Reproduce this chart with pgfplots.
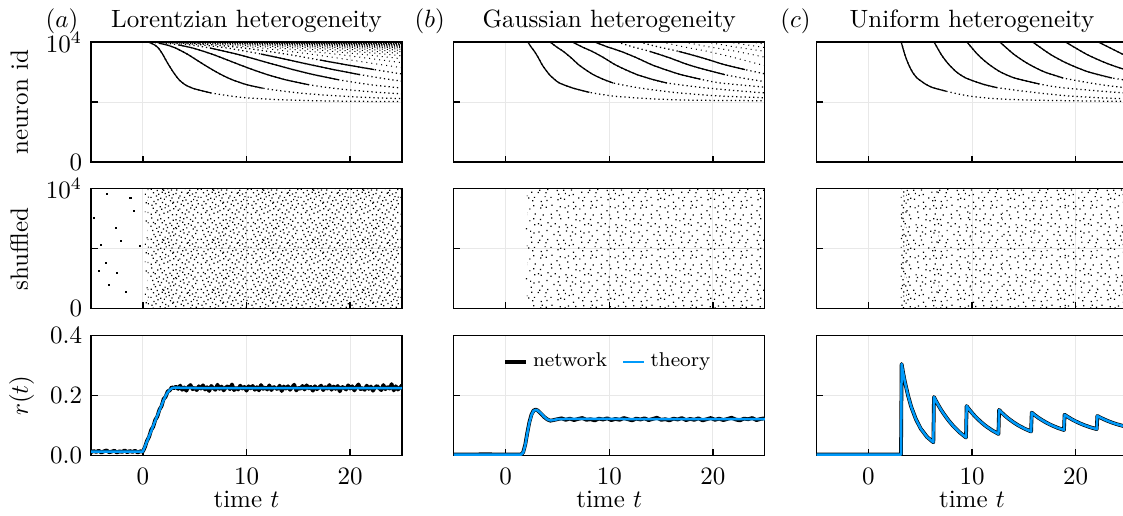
\documentclass[border=0pt]{standalone}
\usepackage{pgfplots}
\pgfplotsset{compat=1.18}
\usepackage{pgfplotstable}
\usepgfplotslibrary{groupplots}
\usetikzlibrary{patterns}

\definecolor{thblue}{RGB}{0,154,250}

% spike dots inside a pattern tile; a 20pt tile is made of one 10pt set placed four ways
\def\spks{0.5pt}
\newcommand\spkdt[2]{\pgfpathrectangle{\pgfpointadd{\spkoff}{\pgfqpoint{#1pt}{#2pt}}}{\pgfqpoint{\spks}{\spks}}}
\newcommand\spkdtT[2]{\pgfpathrectangle{\pgfpointadd{\spkoff}{\pgfqpoint{#2pt}{#1pt}}}{\pgfqpoint{\spks}{\spks}}}
\newcommand\spkdtX[2]{\pgfpathrectangle{\pgfpointadd{\spkoff}{\pgfpoint{9.5pt-#1pt}{#2pt}}}{\pgfqpoint{\spks}{\spks}}}
\newcommand\spkdtY[2]{\pgfpathrectangle{\pgfpointadd{\spkoff}{\pgfpoint{#2pt}{9.5pt-#1pt}}}{\pgfqpoint{\spks}{\spks}}}
\newcommand\setE[1]{#1{0.3}{0.5}#1{3.6}{0.2}#1{7.0}{1.4}#1{2.6}{1.9}#1{5.9}{3.1}#1{9.4}{2.7}%
  #1{0.6}{4.1}#1{3.9}{3.5}#1{7.3}{3.8}#1{3.0}{6.3}#1{5.6}{6.5}#1{9.3}{5.3}%
  #1{0.2}{7.3}#1{4.1}{6.9}#1{7.6}{8.1}#1{3.3}{8.6}#1{6.0}{8.9}#1{9.2}{8.5}}
\newcommand\setO[1]{#1{2.1}{1.2}#1{5.4}{0.9}#1{8.9}{0.3}#1{1.1}{2.9}#1{4.5}{2.5}#1{7.9}{2.0}%
  #1{2.2}{4.7}#1{6.2}{4.4}#1{9.0}{4.9}#1{1.4}{5.6}#1{4.8}{5.2}#1{8.1}{5.9}%
  #1{2.4}{7.9}#1{6.4}{7.5}#1{8.7}{7.0}#1{1.2}{9.2}#1{4.7}{9.4}#1{7.4}{9.4}}
\newcommand\setL[1]{#1{0.9}{0.9}#1{4.3}{1.6}#1{7.7}{0.7}#1{2.7}{4.2}#1{5.8}{3.8}#1{9.2}{4.5}%
  #1{1.3}{7.6}#1{4.9}{8.2}#1{8.3}{7.8}}
\newcommand\fourway[1]{%
  \def\spkoff{\pgfqpoint{0pt}{0pt}}#1\spkdt
  \def\spkoff{\pgfqpoint{10pt}{0pt}}#1\spkdtT
  \def\spkoff{\pgfqpoint{0pt}{10pt}}#1\spkdtY
  \def\spkoff{\pgfqpoint{10pt}{10pt}}#1\spkdtX}
\pgfdeclarepatternformonly{spkM}{\pgfpointorigin}{\pgfqpoint{20pt}{20pt}}{\pgfqpoint{20pt}{20pt}}{%
  \fourway\setE\pgfusepath{fill}}
\pgfdeclarepatternformonly{spkO}{\pgfpointorigin}{\pgfqpoint{20pt}{20pt}}{\pgfqpoint{20pt}{20pt}}{%
  \fourway\setO\pgfusepath{fill}}
\pgfdeclarepatternformonly{spkD}{\pgfpointorigin}{\pgfqpoint{20pt}{20pt}}{\pgfqpoint{20pt}{20pt}}{%
  \fourway\setE\fourway\setO\pgfusepath{fill}}
\pgfdeclarepatternformonly{spkL}{\pgfpointorigin}{\pgfqpoint{20pt}{20pt}}{\pgfqpoint{20pt}{20pt}}{%
  \fourway\setL\pgfusepath{fill}}

\pgfplotsset{
  spkline/.style={black, line width=0.5pt, smooth, tension=0.4},
  spkdot/.style={black, line width=0.5pt, dash pattern=on 0.5pt off 1.2pt, smooth, tension=0.4},
  spkfine/.style={black, line width=0.4pt, dash pattern=on 0.4pt off 1.6pt, smooth, tension=0.4},
  net/.style={black, line width=1.5pt, line join=round},
  thy/.style={thblue, line width=1.0pt, line join=round},
  toprow/.style={ymin=0, ymax=10000, ytick={0,5000,10000}, xticklabels={}},
  botrow/.style={ymin=0, ymax=0.4, ytick={0,0.2,0.4},
    yticklabel style={/pgf/number format/.cd, fixed, fixed zerofill, precision=1}},
}

% spike times of the sorted rasters: one column per spike number
\pgfplotstableread{
id c1 c2 c3 c4 c5 c6 c7 c8 c9 c10 c11 c12 c13 c14
10000 0.45 nan nan nan nan nan nan nan nan nan nan nan nan nan
9990 0.5 0.733 0.966 1.199 1.432 1.665 1.898 2.131 2.364 2.597 2.83 3.063 3.296 3.529
9960 0.62 1.087 1.553 2.02 2.486 2.953 3.419 3.886 4.352 4.819 5.285 5.752 6.218 6.685
9900 0.8 1.538 2.275 3.013 3.751 4.489 5.226 5.964 6.702 7.439 8.177 8.915 9.652 10.39
9750 1.15 2.317 3.484 4.651 5.818 6.985 8.152 9.319 10.49 11.65 12.82 13.99 15.15 16.32
9500 1.5 3.156 4.812 6.468 8.124 9.78 11.44 13.09 14.75 16.4 18.06 19.72 21.37 23.03
9000 1.9 4.27 6.64 9.02 11.39 13.76 16.13 18.5 20.88 23.25 25.62 27.99 30.36 32.73
8500 2.22 5.19 8.16 11.13 14.1 17.07 20.04 23.01 25.98 28.95 nan nan nan nan
8111 2.48 5.9 9.32 12.73 16.15 19.57 22.99 26.4 nan nan nan nan nan nan
7700 2.78 6.69 10.59 14.5 18.41 22.32 26.22 nan nan nan nan nan nan nan
7278 3.11 7.572 12.03 16.5 20.96 25.42 nan nan nan nan nan nan nan nan
6850 3.5 8.634 13.77 18.9 24.04 nan nan nan nan nan nan nan nan nan
6444 4.07 10.03 15.99 21.94 27.9 nan nan nan nan nan nan nan nan nan
6150 4.8 11.57 18.34 25.11 nan nan nan nan nan nan nan nan nan nan
5944 5.67 13.2 20.73 nan nan nan nan nan nan nan nan nan nan nan
5750 6.6 15.09 23.58 nan nan nan nan nan nan nan nan nan nan nan
5611 7.6 17.04 26.47 nan nan nan nan nan nan nan nan nan nan nan
5450 8.9 19.93 nan nan nan nan nan nan nan nan nan nan nan nan
5333 10.2 23.04 nan nan nan nan nan nan nan nan nan nan nan nan
5240 12 27.15 nan nan nan nan nan nan nan nan nan nan nan nan
5167 14 nan nan nan nan nan nan nan nan nan nan nan nan nan
5100 17 nan nan nan nan nan nan nan nan nan nan nan nan nan
5056 21 nan nan nan nan nan nan nan nan nan nan nan nan nan
5030 25.5 nan nan nan nan nan nan nan nan nan nan nan nan nan
}\lorA
\pgfplotstableread{
id d15 d16 d17 d18 d19 d20 d21 d22 d23 d24 d25 d26 d27 d28 d29 d30 d31 d32 d33
9990 3.762 3.995 4.228 4.461 4.694 4.927 5.16 5.393 5.626 5.859 6.092 6.325 6.558 6.791 7.024 7.257 7.49 7.723 7.956
9960 7.151 7.618 8.084 8.551 9.017 9.484 9.95 10.42 10.88 11.35 11.82 12.28 12.75 13.22 13.68 14.15 14.62 15.08 15.55
9900 11.13 11.87 12.6 13.34 14.08 14.82 15.55 16.29 17.03 17.77 18.5 19.24 19.98 20.72 21.46 22.19 22.93 23.67 24.41
9750 17.49 18.66 19.82 20.99 22.16 23.32 24.49 25.66 26.82 27.99 29.16 30.33 31.49 32.66 33.83 35.0 36.16 37.33 38.5
9500 24.68 26.34 28.0 29.65 31.31 32.96 34.62 nan nan nan nan nan nan nan nan nan nan nan nan
9000 35.16 nan nan nan nan nan nan nan nan nan nan nan nan nan nan nan nan nan nan
}\lorB
\pgfplotstableread{
id c1 c2 c3 c4 c5 c6 c7 c8 c9 c10 c11
10000 2.15 4.3 6.45 8.6 10.75 12.9 15.05 17.2 19.35 21.5 23.65
9600 2.45 4.9 7.35 9.8 12.25 14.7 17.15 19.6 22.05 24.5 26.95
9222 2.78 5.56 8.34 11.12 13.9 16.68 19.46 22.24 25.02 27.8 nan
8700 3.15 6.3 9.45 12.6 15.75 18.9 22.05 25.2 nan nan nan
8111 3.52 7.04 10.56 14.08 17.6 21.12 24.64 nan nan nan nan
7700 3.85 7.7 11.55 15.4 19.25 23.1 26.95 nan nan nan nan
7278 4.23 8.46 12.69 16.92 21.15 25.38 nan nan nan nan nan
6900 4.7 9.4 14.1 18.8 23.5 nan nan nan nan nan nan
6583 5.19 10.38 15.57 20.76 25.95 nan nan nan nan nan nan
6167 6.47 12.94 19.41 25.88 nan nan nan nan nan nan nan
5806 8.08 16.16 24.24 nan nan nan nan nan nan nan nan
5600 9.5 19 28.5 nan nan nan nan nan nan nan nan
5472 10.64 21.28 nan nan nan nan nan nan nan nan nan
5278 13.8 27.6 nan nan nan nan nan nan nan nan nan
5167 17.05 nan nan nan nan nan nan nan nan nan nan
5130 20.5 nan nan nan nan nan nan nan nan nan nan
5111 24.4 nan nan nan nan nan nan nan nan nan nan
5100 27 nan nan nan nan nan nan nan nan nan nan
}\gauA
\pgfplotstableread{
id c1 c2 c3 c4 c5 c6 c7
10000 3.17 6.34 9.51 12.68 15.85 19.02 22.19
9000 3.5 7.0 10.5 14.0 17.5 21.0 24.5
8400 3.75 7.5 11.25 15.0 18.75 22.5 26.25
8000 3.95 7.9 11.85 15.8 19.75 23.7 nan
7500 4.25 8.5 12.75 17.0 21.25 25.5 nan
7000 4.7 9.4 14.1 18.8 23.5 nan nan
6500 5.5 11.0 16.5 22.0 27.5 nan nan
6200 6.2 12.4 18.6 24.8 nan nan nan
5900 7.5 15.0 22.5 30.0 nan nan nan
5700 8.5 17.0 25.5 nan nan nan nan
5500 9.7 19.4 nan nan nan nan nan
5350 11.2 22.4 nan nan nan nan nan
5250 12.7 25.4 nan nan nan nan nan
5180 14.8 nan nan nan nan nan nan
5140 17.0 nan nan nan nan nan nan
5100 20.0 nan nan nan nan nan nan
5070 23.0 nan nan nan nan nan nan
5055 25.5 nan nan nan nan nan nan
}\uniA
% firing rate, uniform case
\pgfplotstableread{
t r
-5 0.003
3.15 0.003
3.21 0.305
3.363 0.274
3.516 0.247
3.822 0.201
4.128 0.163
4.587 0.121
5.046 0.090
5.658 0.062
6.27 0.044
6.33 0.195
6.485 0.1845
6.639 0.1746
6.948 0.1561
7.257 0.1397
7.721 0.1176
8.184 0.0985
8.802 0.0773
9.42 0.060
9.48 0.165
9.634 0.1577
9.787 0.1510
10.094 0.1382
10.401 0.1269
10.862 0.1117
11.322 0.0985
11.936 0.0839
12.55 0.072
12.61 0.152
12.765 0.1464
12.919 0.1411
13.228 0.1313
13.537 0.1225
14.001 0.1107
14.464 0.1005
15.082 0.0892
15.7 0.080
15.76 0.143
15.916 0.1385
16.071 0.1342
16.382 0.1263
16.693 0.1192
17.16 0.1098
17.626 0.1015
18.248 0.0924
18.87 0.085
18.93 0.136
19.085 0.1323
19.24 0.1288
19.55 0.1222
19.86 0.1163
20.325 0.1085
20.79 0.1017
21.41 0.0941
22.03 0.088
22.09 0.132
22.243 0.129
22.396 0.1263
22.702 0.1211
23.008 0.1164
23.467 0.1102
23.926 0.1048
24.538 0.0989
25.0 0.0951
}\uniR

\begin{document}
\begin{tikzpicture}
\begin{groupplot}[
  group style={group size=3 by 3, horizontal sep=20.7pt, vertical sep=10.7pt},
  scale only axis, width=124.4pt, height=48pt,
  xmin=-5, xmax=25, xtick={0,10,20},
  tick pos=left, tick align=inside, major tick length=2.6pt,
  tick style={black, line width=0.55pt},
  axis line style={black, line width=0.55pt},
  grid=major, grid style={black!9, line width=0.4pt},
  every axis title/.style={at={(axis description cs:0.5,1.125)}, anchor=base},
  ylabel style={at={(axis description cs:-0.2026,0.5)}, anchor=base},
  xlabel style={at={(axis description cs:0.5,-0.433)}, anchor=base},
  xticklabel style={yshift=-1.5pt},
  scaled y ticks=false,
]
% ---- row 1: sorted rasters
\nextgroupplot[toprow, yticklabels={$0$,,$10^4$}, ylabel={neuron id},
  title={Lorentzian heterogeneity},
  extra description/.code={\node[anchor=base] at (axis description cs:-0.093,1.125) {$(a)$};}]
\pgfplotsinvokeforeach{1,...,6}{\addplot[spkdot] table[x=c#1, y=id] {\lorA};}
\pgfplotsinvokeforeach{7,...,14}{\addplot[spkfine] table[x=c#1, y=id] {\lorA};}
\pgfplotsinvokeforeach{15,...,33}{\addplot[spkfine] table[x=d#1, y=id] {\lorB};}
\addplot[spkline, restrict y to domain=5750:10000] table[x=c1, y=id] {\lorA};
\addplot[spkline, restrict y to domain=6150:9900] table[x=c2, y=id] {\lorA};
\addplot[spkline, restrict y to domain=6444:9750] table[x=c3, y=id] {\lorA};
\addplot[spkline, restrict y to domain=6850:9500] table[x=c4, y=id] {\lorA};
\addplot[spkline, restrict y to domain=7278:9000] table[x=c5, y=id] {\lorA};
\addplot[spkline, restrict y to domain=7700:8500] table[x=c6, y=id] {\lorA};

\nextgroupplot[toprow, yticklabels={}, title={Gaussian heterogeneity},
  extra description/.code={\node[anchor=base] at (axis description cs:-0.077,1.125) {$(b)$};}]
\pgfplotsinvokeforeach{1,...,6}{\addplot[spkdot] table[x=c#1, y=id] {\gauA};}
\pgfplotsinvokeforeach{7,...,11}{\addplot[spkfine] table[x=c#1, y=id] {\gauA};}
\addplot[spkline, restrict y to domain=5806:10000] table[x=c1, y=id] {\gauA};
\addplot[spkline, restrict y to domain=6583:10000] table[x=c2, y=id] {\gauA};
\addplot[spkline, restrict y to domain=6583:10000] table[x=c3, y=id] {\gauA};
\addplot[spkline, restrict y to domain=6900:10000] table[x=c4, y=id] {\gauA};
\addplot[spkline, restrict y to domain=7278:9222] table[x=c5, y=id] {\gauA};
\addplot[spkline, restrict y to domain=7700:9222] table[x=c6, y=id] {\gauA};

\nextgroupplot[toprow, yticklabels={}, title={Uniform heterogeneity},
  extra description/.code={\node[anchor=base] at (axis description cs:-0.0675,1.125) {$(c)$};}]
\pgfplotsinvokeforeach{1,...,7}{\addplot[spkdot] table[x=c#1, y=id] {\uniA};}
\addplot[spkline, restrict y to domain=5900:10000] table[x=c1, y=id] {\uniA};
\addplot[spkline, restrict y to domain=6200:10000] table[x=c2, y=id] {\uniA};
\addplot[spkline, restrict y to domain=6500:10000] table[x=c3, y=id] {\uniA};
\addplot[spkline, restrict y to domain=7000:10000] table[x=c4, y=id] {\uniA};
\addplot[spkline, restrict y to domain=7000:10000] table[x=c5, y=id] {\uniA};
\addplot[spkline, restrict y to domain=7500:10000] table[x=c6, y=id] {\uniA};
\addplot[spkline, restrict y to domain=8400:10000] table[x=c7, y=id] {\uniA};

% ---- row 2: shuffled rasters (spike density shown as dot texture)
\nextgroupplot[toprow, yticklabels={$0$,,$10^4$}, ylabel={shuffled}]
\addplot[draw=none, pattern=spkL] coordinates {(0.2,10000) (0.45,10000)} \closedcycle;
\addplot[draw=none, pattern=spkD] coordinates {(0.45,10000) (25.5,10000)} \closedcycle;
\addplot[only marks, mark=square*, mark size=0.2pt, mark options={draw=none, fill=black}]
  coordinates {(-3.43,9555) (-1.19,9270) (-0.87,8151) (-2.63,6748) (-2.14,5630) (-4.0,5294)
  (-3.6,3807) (-4.27,3109) (-2.5,2966) (-3.24,1992) (-1.6,1370) (-4.75,7588) (-0.3,5200)};

\nextgroupplot[toprow, yticklabels={}]
\addplot[draw=none, pattern=spkL] coordinates {(1.85,10000) (2.1,10000)} \closedcycle;
\addplot[draw=none, pattern=spkM] coordinates {(2.1,10000) (25.5,10000)} \closedcycle;

\nextgroupplot[toprow, yticklabels={}]
\addplot[draw=none, pattern=spkM] coordinates {(3.12,10000) (25.5,10000)} \closedcycle;
\addplot[draw=none, pattern=spkO] coordinates {(3.12,10000) (3.7,10000)} \closedcycle;
\addplot[draw=none, pattern=spkL] coordinates {(3.12,10000) (3.45,10000)} \closedcycle;
\addplot[draw=none, pattern=spkL] coordinates {(6.28,10000) (6.75,10000)} \closedcycle;
\addplot[draw=none, pattern=spkL] coordinates {(9.43,10000) (9.85,10000)} \closedcycle;
\addplot[draw=none, pattern=spkL] coordinates {(12.57,10000) (12.95,10000)} \closedcycle;
\addplot[draw=none, pattern=spkL] coordinates {(15.72,10000) (16.1,10000)} \closedcycle;
\addplot[draw=none, pattern=spkL] coordinates {(18.88,10000) (19.25,10000)} \closedcycle;
\addplot[draw=none, pattern=spkL] coordinates {(22.04,10000) (22.4,10000)} \closedcycle;

% ---- row 3: firing rate
\nextgroupplot[botrow, ylabel={$r(t)$}, xlabel={time $t$}]
\addplot[net] coordinates {
 (-5,0.011) (-4.75,0.015) (-4.5,0.012) (-4.25,0.016) (-4,0.010) (-3.75,0.014) (-3.5,0.017)
 (-3.25,0.011) (-3,0.013) (-2.75,0.016) (-2.5,0.010) (-2.25,0.014) (-2,0.012) (-1.75,0.017)
 (-1.5,0.011) (-1.25,0.015) (-1,0.012) (-0.75,0.016) (-0.5,0.010) (-0.25,0.014) (0,0.013)
 (0.2,0.028) (0.4,0.049) (0.6,0.062) (0.8,0.085) (1.0,0.096) (1.2,0.119) (1.4,0.130)
 (1.6,0.153) (1.8,0.164) (2.0,0.188) (2.2,0.196) (2.4,0.214) (2.6,0.217) (2.8,0.228) (3.0,0.224)
 (3.2,0.230) (3.4,0.222) (3.6,0.233) (3.8,0.219) (4.0,0.227) (4.2,0.216) (4.4,0.229) (4.6,0.235)
 (4.8,0.221) (5.0,0.226) (5.2,0.218) (5.4,0.231) (5.6,0.223) (5.8,0.234) (6.0,0.220) (6.2,0.228)
 (6.4,0.215) (6.6,0.232) (6.8,0.225) (7.0,0.219) (7.2,0.236) (7.4,0.222) (7.6,0.230) (7.8,0.217)
 (8.0,0.227) (8.2,0.231) (8.4,0.221) (8.6,0.237) (8.8,0.218) (9.0,0.226) (9.2,0.220) (9.4,0.233)
 (9.6,0.223) (9.8,0.229) (10.0,0.216) (10.2,0.231) (10.4,0.224) (10.6,0.232) (10.8,0.219) (11.0,0.228)
 (11.2,0.217) (11.4,0.235) (11.6,0.222) (11.8,0.227) (12.0,0.220) (12.2,0.234) (12.4,0.218) (12.6,0.229)
 (12.8,0.225) (13.0,0.221) (13.2,0.233) (13.4,0.215) (13.6,0.230) (13.8,0.223) (14.0,0.231) (14.2,0.219)
 (14.4,0.228) (14.6,0.236) (14.8,0.217) (15.0,0.226) (15.2,0.222) (15.4,0.232) (15.6,0.220) (15.8,0.234)
 (16.0,0.224) (16.2,0.229) (16.4,0.216) (16.6,0.231) (16.8,0.221) (17.0,0.227) (17.2,0.233) (17.4,0.218)
 (17.6,0.228) (17.8,0.223) (18.0,0.235) (18.2,0.219) (18.4,0.230) (18.6,0.222) (18.8,0.232) (19.0,0.214)
 (19.2,0.229) (19.4,0.226) (19.6,0.220) (19.8,0.234) (20.0,0.223) (20.2,0.231) (20.4,0.217) (20.6,0.228)
 (20.8,0.237) (21.0,0.221) (21.2,0.225) (21.4,0.219) (21.6,0.233) (21.8,0.222) (22.0,0.230) (22.2,0.216)
 (22.4,0.227) (22.6,0.232) (22.8,0.224) (23.0,0.218) (23.2,0.235) (23.4,0.221) (23.6,0.229) (23.8,0.223)
 (24.0,0.238) (24.2,0.217) (24.4,0.231) (24.6,0.220) (24.8,0.226) (25.0,0.234)};
\addplot[thy] coordinates {
 (-5,0.013) (0,0.013) (0.2,0.03) (0.4,0.047) (0.6,0.064) (0.8,0.081) (1.0,0.099) (1.2,0.116)
 (1.4,0.133) (1.6,0.150) (1.8,0.167) (2.0,0.184) (2.2,0.199) (2.4,0.211) (2.6,0.219) (2.8,0.224)
 (3.0,0.226) (3.4,0.226) (5,0.225) (25,0.225)};

\nextgroupplot[botrow, yticklabels={}, xlabel={time $t$},
  legend style={at={(axis description cs:0.5,0.78)}, anchor=center, draw=none, fill=none,
    font=\footnotesize, legend columns=2, /tikz/every even column/.append style={column sep=4pt}},
  legend image code/.code={\draw[#1] (0pt,0pt) -- (8.5pt,0pt);}]
\addplot[net] coordinates {
 (-5,0.003) (-2,0.004) (1.5,0.003) (1.7,0.011) (1.9,0.037) (2.1,0.077) (2.3,0.112) (2.5,0.137)
 (2.7,0.150) (2.9,0.153) (3.1,0.150) (3.4,0.140) (3.7,0.129) (4.0,0.121) (4.3,0.116) (4.6,0.118)
 (5.0,0.121) (5.4,0.124) (5.8,0.119) (6.2,0.123) (6.6,0.118) (7.0,0.122) (7.4,0.125) (7.8,0.119)
 (8.2,0.121) (8.6,0.117) (9.0,0.123) (9.4,0.120) (9.8,0.124) (10.2,0.118) (10.6,0.122) (11.0,0.119)
 (11.4,0.125) (11.8,0.121) (12.2,0.117) (12.6,0.123) (13.0,0.120) (13.4,0.124) (13.8,0.118) (14.2,0.122)
 (14.6,0.126) (15.0,0.119) (15.4,0.121) (15.8,0.117) (16.2,0.123) (16.6,0.120) (17.0,0.125) (17.4,0.118)
 (17.8,0.122) (18.2,0.119) (18.6,0.124) (19.0,0.117) (19.4,0.121) (19.8,0.125) (20.2,0.119) (20.6,0.123)
 (21.0,0.118) (21.4,0.122) (21.8,0.126) (22.2,0.120) (22.6,0.117) (23.0,0.123) (23.4,0.121) (23.8,0.125)
 (24.2,0.118) (24.6,0.122) (25.0,0.124)};
\addlegendentry{network}
\addplot[thy] coordinates {
 (-5,0.003) (1.5,0.003) (1.7,0.01) (1.9,0.035) (2.1,0.075) (2.3,0.11) (2.5,0.135) (2.7,0.149)
 (2.9,0.152) (3.1,0.15) (3.4,0.141) (3.7,0.13) (4.0,0.121) (4.3,0.117) (4.6,0.118) (5.0,0.121)
 (6,0.122) (25,0.121)};
\addlegendentry{theory}

\nextgroupplot[botrow, yticklabels={}, xlabel={time $t$}]
\addplot[net] table[x=t, y=r] {\uniR};
\addplot[thy] table[x=t, y=r] {\uniR};
\end{groupplot}
\pgfresetboundingbox
\path[use as bounding box] ([xshift=-36.4pt, yshift=16.8pt]group c1r1.north west)
  rectangle ([xshift=-1.8pt, yshift=-24pt]group c3r3.south east);
\end{tikzpicture}
\end{document}
